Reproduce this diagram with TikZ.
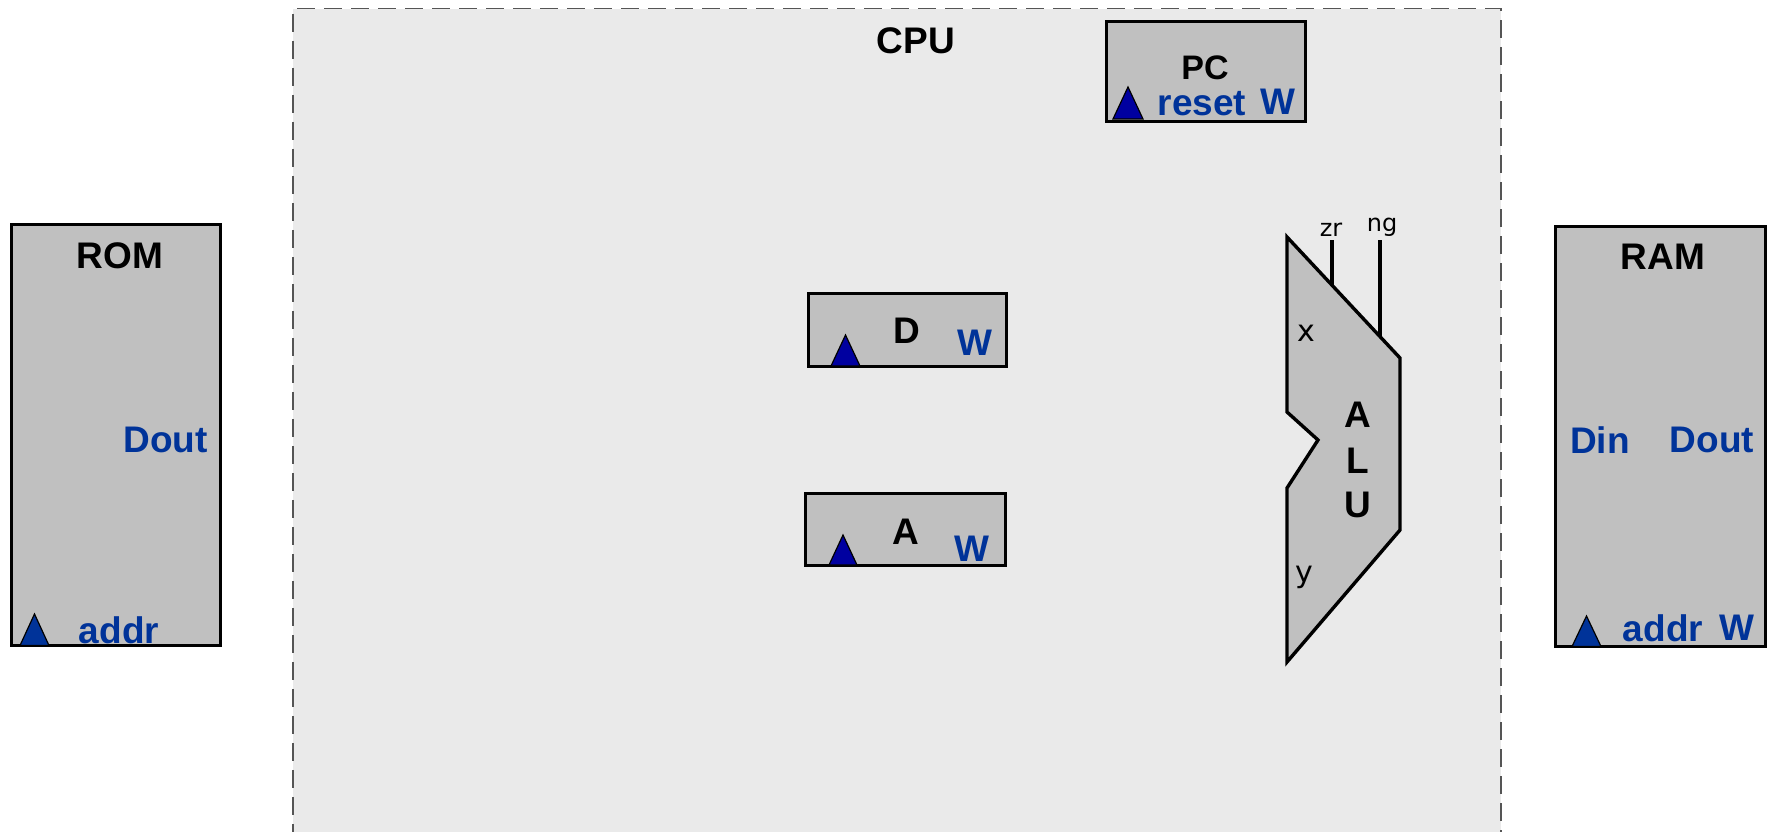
\documentclass[tikz,border=0pt]{standalone}
\usepackage{fontspec}
\setmainfont{Liberation Sans}
\newfontfamily\handfont{DejaVu Sans}
\definecolor{cpubg}{RGB}{234,234,234}
\definecolor{boxgray}{RGB}{192,192,192}
\definecolor{lblblue}{RGB}{0,51,153}
\definecolor{clkblue}{RGB}{0,0,160}
\definecolor{dashgray}{RGB}{85,85,85}
\begin{document}
\begin{tikzpicture}[x=1pt,y=-1pt,
  chip/.style={draw=black, fill=boxgray, line width=3.8pt, inner sep=0pt, rectangle},
  bigtxt/.style={font=\bfseries\fontsize{37}{39}\selectfont, text=black, inner sep=0pt},
  bluetxt/.style={font=\bfseries\fontsize{37}{39}\selectfont, text=lblblue, inner sep=0pt},
  smalltxt/.style={font=\handfont\fontsize{24}{26}\selectfont, text=black, inner sep=0pt},
  clk/.style={draw=black, line width=1.2pt, fill=clkblue},
  pin/.style={draw=black, line width=3.4pt}]
\useasboundingbox (0,0) rectangle (1774,832);
\fill[white] (0,0) rectangle (1774,832);
% CPU region
\node[draw=dashgray, fill=cpubg, line width=1.5pt, dash pattern=on 18pt off 9pt, inner sep=0pt,
      minimum width=1208pt, minimum height=900pt, anchor=north west] (cpu) at (292,8) {};
\node[bigtxt] (cpulbl) at (916,41) {CPU};
% ROM
\node[chip, minimum width=209pt, minimum height=421pt] (rom) at (116,435) {};
\node[bigtxt] (romlbl) at (120,256) {ROM};
\node[bluetxt, anchor=east] (romdout) at (208,440) {Dout};
\node[bluetxt] (romaddr) at (119,630) {addr};
\draw[clk, fill=lblblue] (20,645.5) -- (34.5,614) -- (49,645.5) -- cycle;
% RAM
\node[chip, minimum width=210pt, minimum height=420pt] (ram) at (1660.5,436.5) {};
\node[bigtxt] (ramlbl) at (1663,257) {RAM};
\node[bluetxt] (ramdin) at (1600,440) {Din};
\node[bluetxt] (ramdout) at (1712,440) {Dout};
\node[bluetxt] (ramaddr) at (1663,628) {addr};
\node[bluetxt] (ramw) at (1737,628) {W};
\draw[clk, fill=lblblue] (1572,646.5) -- (1586.5,616) -- (1601,646.5) -- cycle;
% PC
\node[chip, minimum width=199pt, minimum height=100pt] (pc) at (1206,71.5) {};
\node[bigtxt, font=\bfseries\fontsize{34}{36}\selectfont] (pclbl) at (1205,68) {PC};
\node[bluetxt] (pcreset) at (1202,104) {reset};
\node[bluetxt] (pcw) at (1278,102) {W};
\draw[clk] (1113,119) -- (1128,87) -- (1143,119) -- cycle;
% D register
\node[chip, minimum width=198pt, minimum height=73pt] (dreg) at (907.5,330) {};
\node[bigtxt] (dlbl) at (907,331) {D};
\node[bluetxt] (dw) at (975,343) {W};
\draw[clk] (831,366) -- (845.5,335) -- (860,366) -- cycle;
% A register
\node[chip, minimum width=200pt, minimum height=72pt] (areg) at (905.5,529.5) {};
\node[bigtxt] (albl) at (906,532) {A};
\node[bluetxt] (aw) at (972,549) {W};
\draw[clk] (829,565) -- (843,535) -- (857,565) -- cycle;
% ALU
\draw[fill=boxgray, draw=black, line width=3.4pt, line join=miter]
  (1287,237) -- (1400,358) -- (1400,530) -- (1287,662) -- (1287,488) -- (1318,440) -- (1287,412) -- cycle;
\coordinate (zrtop) at (1332,240);
\coordinate (zrbot) at (1332,285);
\coordinate (ngtop) at (1380,240);
\coordinate (ngbot) at (1380,337);
\draw[pin] (zrtop) -- (zrbot);
\draw[pin] (ngtop) -- (ngbot);
\node[smalltxt, anchor=south] (zrlbl) at (1331,237) {zr};
\node[smalltxt, anchor=south] (nglbl) at (1382,237) {ng};
\node[smalltxt, font=\handfont\fontsize{30}{32}\selectfont] (xlbl) at (1306,333) {x};
\node[smalltxt, font=\handfont\fontsize{30}{32}\selectfont] (ylbl) at (1304,577) {y};
\node[bigtxt] (alua) at (1358,415) {A};
\node[bigtxt] (alul) at (1358,461) {L};
\node[bigtxt] (aluu) at (1358,505) {U};
\end{tikzpicture}
\end{document}
